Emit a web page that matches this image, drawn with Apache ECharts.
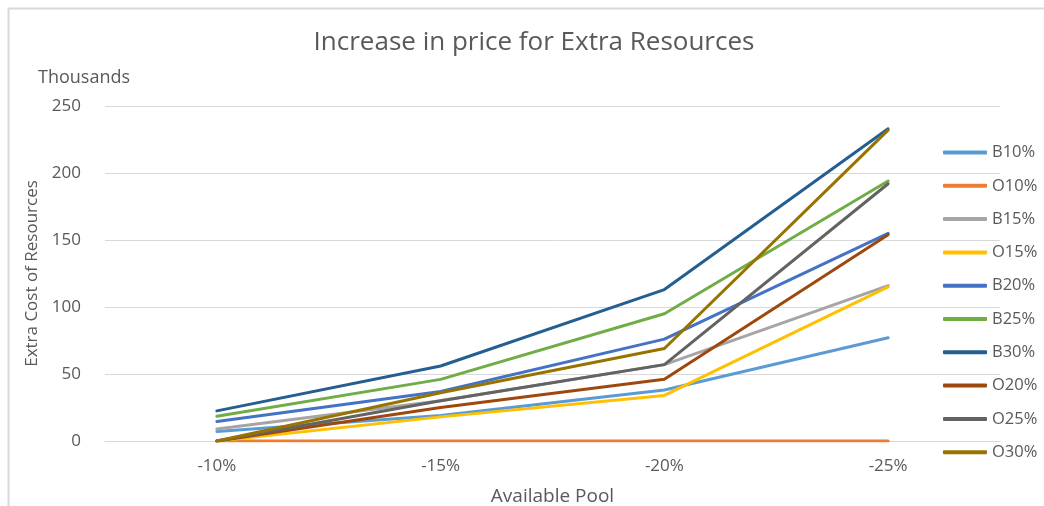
<!DOCTYPE html>
<html>
<head>
<meta charset="utf-8">
<script src="https://cdn.jsdelivr.net/npm/echarts@6/dist/echarts.min.js"></script>
<style>
html,body{margin:0;padding:0;background:#fff;}
#c{width:1044px;height:506px;}
</style>
</head>
<body>
<div id="c"></div>
<script>
const categories = ['-10%', '-15%', '-20%', '-25%'];
const seriesNames = ['B10%', 'O10%', 'B15%', 'O15%', 'B20%', 'B25%', 'B30%', 'O20%', 'O25%', 'O30%'];
const B10 = [7, 19, 38, 77];
const O10 = [0, 0, 0, 0];
const B15 = [9, 30, 57, 116];
const O15 = [0, 18, 34, 115];
const B20 = [14.5, 37, 76, 155];
const B25 = [18.5, 46, 95, 194];
const B30 = [22.5, 56, 113, 233];
const O20 = [0, 25, 46, 154];
const O25 = [0, 30, 57, 192];
const O30 = [0, 36, 69, 232];
const yTicks = [0, 50, 100, 150, 200, 250];

const values = [B10, O10, B15, O15, B20, B25, B30, O20, O25, O30];
const colors = ['#5B9BD5', '#ED7D31', '#A5A5A5', '#FFC000', '#4472C4', '#70AD47', '#255E91', '#9E480E', '#636363', '#997300'];
const FONT = 'Open Sans';

const chart = echarts.init(document.getElementById('c'), null, {renderer: 'canvas'});
chart.setOption({
  animation: false,
  backgroundColor: '#fff',
  color: colors,
  title: {
    text: 'Increase in price for Extra Resources',
    left: 529, top: 25, textAlign: 'center',
    textStyle: {fontFamily: FONT, fontSize: 26, fontWeight: 'normal', color: '#595959'}
  },
  graphic: [
    {type: 'rect', shape: {x: 8.5, y: 8.5, width: 1200, height: 700}, style: {fill: 'none', stroke: '#d9d9d9', lineWidth: 2}, silent: true},
    {type: 'text', left: 38, top: 69, style: {text: 'Thousands', fontFamily: FONT, fontSize: 18, fill: '#595959'}}
  ],
  legend: {
    orient: 'vertical',
    left: 938, top: 139,
    itemWidth: 44, itemHeight: 4,
    itemGap: 16.3,
    icon: 'roundRect',
    data: seriesNames,
    textStyle: {fontFamily: FONT, fontSize: 16.5, color: '#595959', lineHeight: 14}
  },
  grid: {left: 105, right: 44, top: 106, bottom: 65, outerBoundsMode: 'none', containLabel: false},
  xAxis: {
    type: 'category',
    data: categories,
    boundaryGap: true,
    name: 'Available Pool',
    nameLocation: 'middle',
    nameGap: 46,
    nameTextStyle: {fontFamily: FONT, fontSize: 19, color: '#595959'},
    axisLine: {lineStyle: {color: '#d9d9d9', width: 1}},
    axisTick: {show: false},
    axisLabel: {fontFamily: FONT, fontSize: 17, color: '#595959', margin: 17}
  },
  yAxis: {
    type: 'value',
    min: yTicks[0], max: yTicks[yTicks.length - 1], interval: 50,
    name: 'Extra Cost of Resources',
    nameLocation: 'middle',
    nameGap: 60,
    nameTextStyle: {fontFamily: FONT, fontSize: 17, color: '#595959'},
    axisLine: {show: false},
    axisTick: {show: false},
    splitLine: {lineStyle: {color: '#d9d9d9', width: 1}},
    axisLabel: {fontFamily: FONT, fontSize: 17, color: '#595959', margin: 24}
  },
  series: seriesNames.map((n, i) => ({
    name: n,
    type: 'line',
    data: values[i],
    symbol: 'none',
    lineStyle: {width: 3, cap: 'round', join: 'round'}
  }))
});
</script>
</body>
</html>
